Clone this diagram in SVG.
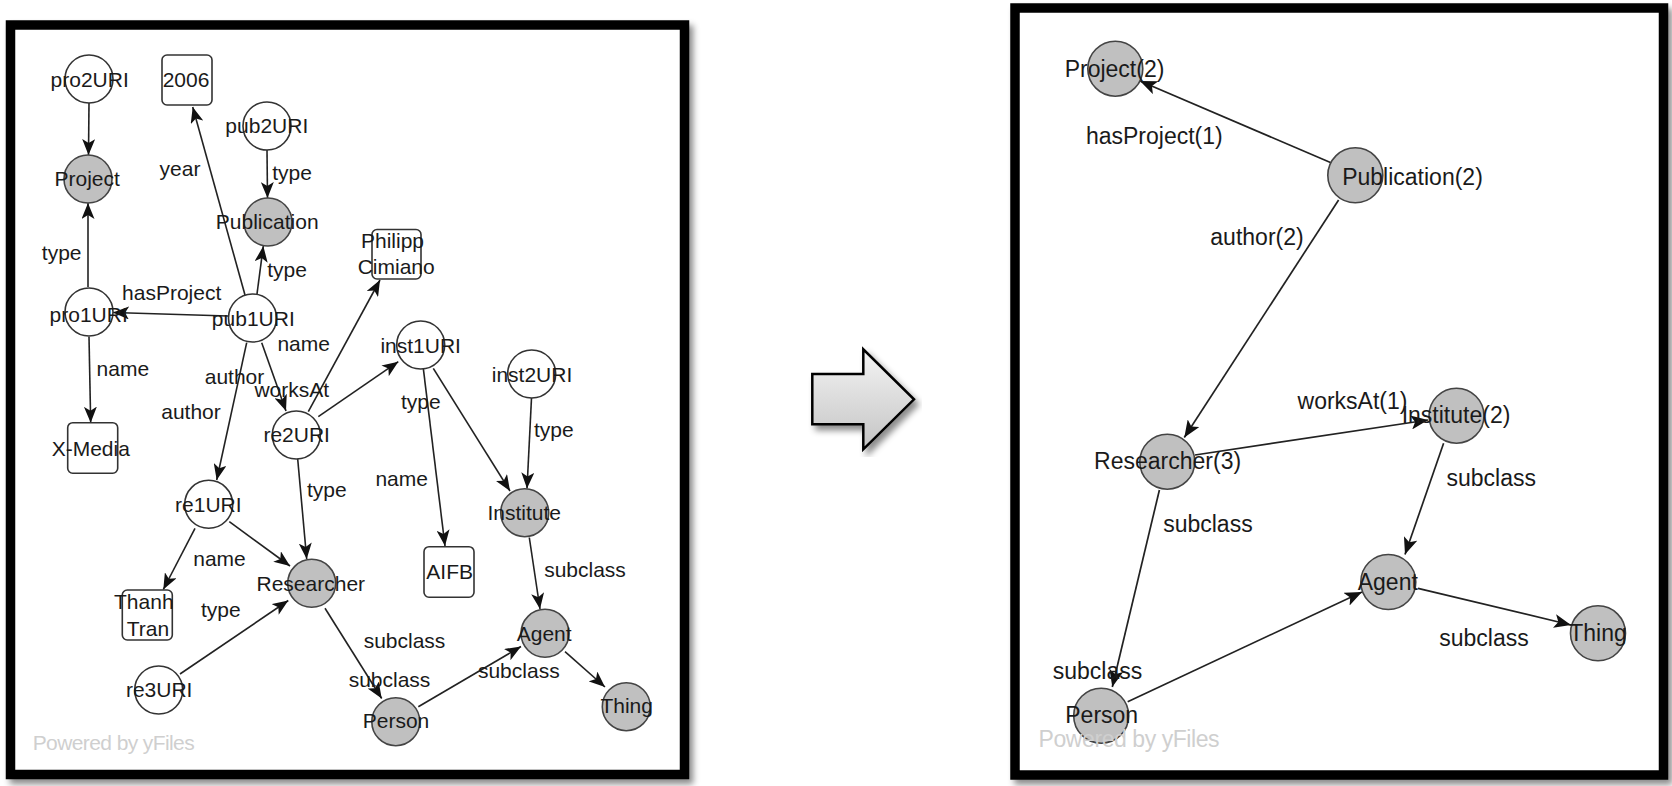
<svg xmlns="http://www.w3.org/2000/svg" width="1672" height="786" viewBox="0 0 1672 786">
<defs>
<style>
.panel{fill:#fff;stroke:#000;stroke-width:9.5;filter:url(#sh)}
.w{fill:#fff;stroke:#333;stroke-width:1.6}
.g{fill:#c0c0c0;stroke:#444;stroke-width:1.6}
.box{fill:#fff;stroke:#333;stroke-width:1.6}
.e{fill:none;stroke:#222;stroke-width:1.6;marker-end:url(#arr)}
.e2{fill:none;stroke:#222;stroke-width:1.7;marker-end:url(#arr2)}
text{font-family:"Liberation Sans",Arial,sans-serif;fill:#1a1a1a}
.t1{font-size:21px;text-anchor:middle}
.t2{font-size:23px;text-anchor:middle}
.pw{font-size:21px;fill:#cfcfcf}
.pw2{font-size:23px;fill:#cfcfcf}
</style>
<filter id="sh" x="-5%" y="-5%" width="112%" height="112%">
<feDropShadow dx="4" dy="5" stdDeviation="3" flood-color="#000" flood-opacity="0.45"/>
</filter>
<linearGradient id="ag" x1="0" y1="0" x2="0" y2="1">
<stop offset="0" stop-color="#f4f4f4"/>
<stop offset="1" stop-color="#c4c4c4"/>
</linearGradient>
<marker id="arr" viewBox="0 0 16 13" refX="16" refY="6.5" markerWidth="16" markerHeight="13" orient="auto" markerUnits="userSpaceOnUse">
<path d="M0,0 L16,6.5 L0,13 L4,6.5 z" fill="#111"/>
</marker>
<marker id="arr2" viewBox="0 0 17 14" refX="17" refY="7" markerWidth="17" markerHeight="14" orient="auto" markerUnits="userSpaceOnUse">
<path d="M0,0 L17,7 L0,14 L4,7 z" fill="#111"/>
</marker>
</defs>

<!-- panels -->
<rect class="panel" x="10.5" y="25" width="674" height="749.5"/>
<rect class="panel" x="1015" y="8" width="648.5" height="767"/>

<!-- block arrow -->
<g id="bigarrow">
<polygon points="812.3,374 863.3,374 863.3,349.3 914,399.3 863.3,449.3 863.3,424.3 812.3,424.3" fill="url(#ag)" stroke="#000" stroke-width="2.5" stroke-linejoin="miter" filter="url(#sh)"/>
</g>

<!-- left connectors -->
<g id="connectors-left">
<line class="e" x1="89" y1="103" x2="88.5" y2="155"/>
<line class="e" x1="267" y1="150" x2="267.5" y2="198"/>
<line class="e" x1="245" y1="295" x2="192.7" y2="107"/>
<line class="e" x1="257" y1="294" x2="263.3" y2="246"/>
<line class="e" x1="88" y1="287" x2="88" y2="203"/>
<line class="e" x1="228" y1="316" x2="113" y2="312.5"/>
<line class="e" x1="89" y1="336.7" x2="90.7" y2="422.7"/>
<line class="e" x1="246.7" y1="342.7" x2="216.7" y2="480"/>
<line class="e" x1="261.7" y1="342.7" x2="286" y2="411"/>
<line class="e" x1="308.3" y1="411.7" x2="380" y2="280"/>
<line class="e" x1="318.3" y1="416.7" x2="398.3" y2="361.7"/>
<line class="e" x1="423.3" y1="368.3" x2="445" y2="546"/>
<line class="e" x1="433.3" y1="368.3" x2="510" y2="491"/>
<line class="e" x1="531.5" y1="398" x2="527" y2="488.5"/>
<line class="e" x1="297.7" y1="459" x2="306.7" y2="559"/>
<line class="e" x1="229.3" y1="521.7" x2="290" y2="566"/>
<line class="e" x1="195" y1="528.3" x2="163.3" y2="589.5"/>
<line class="e" x1="180" y1="674" x2="288.3" y2="600.5"/>
<line class="e" x1="325" y1="608.3" x2="381.7" y2="698.5"/>
<line class="e" x1="418.3" y1="706.7" x2="521" y2="646.5"/>
<line class="e" x1="529.3" y1="537.5" x2="540" y2="609"/>
<line class="e" x1="565" y1="651.7" x2="605" y2="687"/>
</g>

<!-- left edge labels -->
<g id="edge-labels-left">
<text class="t1" x="180" y="176">year</text>
<text class="t1" x="292" y="180">type</text>
<text class="t1" x="287" y="277">type</text>
<text class="t1" x="61.7" y="260">type</text>
<text class="t1" x="171.7" y="300">hasProject</text>
<text class="t1" x="122.8" y="376">name</text>
<text class="t1" x="303.7" y="351">name</text>
<text class="t1" x="234.5" y="384">author</text>
<text class="t1" x="291.8" y="397">worksAt</text>
<text class="t1" x="191" y="419">author</text>
<text class="t1" x="326.8" y="497">type</text>
<text class="t1" x="219.5" y="566">name</text>
<text class="t1" x="220.8" y="617">type</text>
<text class="t1" x="420.8" y="409">type</text>
<text class="t1" x="401.7" y="486">name</text>
<text class="t1" x="553.8" y="437">type</text>
<text class="t1" x="585" y="576.5">subclass</text>
<text class="t1" x="404.5" y="648">subclass</text>
<text class="t1" x="389.5" y="687">subclass</text>
<text class="t1" x="518.8" y="677.5">subclass</text>
</g>

<!-- left nodes -->
<g id="pro2URI"><circle class="w" cx="89" cy="79" r="24"/><text class="t1" x="89.7" y="86.7">pro2URI</text></g>
<g id="n2006"><rect class="box" x="162" y="55" width="50" height="50" rx="5"/><text class="t1" x="186" y="86.7">2006</text></g>
<g id="pub2URI"><circle class="w" cx="267" cy="126" r="24"/><text class="t1" x="266.8" y="133.3">pub2URI</text></g>
<g id="Project"><circle class="g" cx="88" cy="179" r="24"/><text class="t1" x="87.2" y="185.7">Project</text></g>
<g id="Publication"><circle class="g" cx="268" cy="222" r="24"/><text class="t1" x="267.2" y="229">Publication</text></g>
<g id="PhilippCimiano"><rect class="box" x="372" y="229.5" width="49" height="49.5" rx="5"/><text class="t1" x="392.5" y="248.3">Philipp</text><text class="t1" x="396.2" y="274">Cimiano</text></g>
<g id="pro1URI"><circle class="w" cx="89" cy="312" r="24"/><text class="t1" x="88.7" y="321.7">pro1URI</text></g>
<g id="pub1URI"><circle class="w" cx="252.5" cy="318" r="24"/><text class="t1" x="253.3" y="326">pub1URI</text></g>
<g id="inst1URI"><circle class="w" cx="420.7" cy="345" r="24"/><text class="t1" x="420.7" y="353.3">inst1URI</text></g>
<g id="inst2URI"><circle class="w" cx="531.7" cy="374" r="24"/><text class="t1" x="532" y="381.7">inst2URI</text></g>
<g id="XMedia"><rect class="box" x="67.7" y="422.7" width="50" height="50.5" rx="5"/><text class="t1" x="90.8" y="456">X-Media</text></g>
<g id="re2URI"><circle class="w" cx="296.3" cy="435" r="24"/><text class="t1" x="296.7" y="441.7">re2URI</text></g>
<g id="re1URI"><circle class="w" cx="208.7" cy="504.3" r="24"/><text class="t1" x="208.3" y="511.7">re1URI</text></g>
<g id="Researcher"><circle class="g" cx="311.7" cy="583.3" r="24"/><text class="t1" x="310.8" y="591">Researcher</text></g>
<g id="ThanhTran"><rect class="box" x="122.3" y="590" width="50" height="50" rx="5"/><text class="t1" x="143.8" y="609.3">Thanh</text><text class="t1" x="148" y="636">Tran</text></g>
<g id="re3URI"><circle class="w" cx="158.7" cy="690" r="24"/><text class="t1" x="159.2" y="697.3">re3URI</text></g>
<g id="Institute"><circle class="g" cx="524.7" cy="512.7" r="24"/><text class="t1" x="524.2" y="520">Institute</text></g>
<g id="AIFB"><rect class="box" x="424" y="546.7" width="50" height="50.5" rx="5"/><text class="t1" x="449.7" y="579.3">AIFB</text></g>
<g id="Agent"><circle class="g" cx="545" cy="633.3" r="24"/><text class="t1" x="544.2" y="640.7">Agent</text></g>
<g id="Person"><circle class="g" cx="395.8" cy="721.7" r="24"/><text class="t1" x="396" y="728.3">Person</text></g>
<g id="Thing"><circle class="g" cx="626.3" cy="706.7" r="24"/><text class="t1" x="626.7" y="713.3">Thing</text></g>
<text class="pw" x="32.7" y="750" textLength="162">Powered by yFiles</text>

<!-- right connectors -->
<g id="connectors-right">
<line class="e2" x1="1332.2" y1="163.3" x2="1140" y2="81"/>
<line class="e2" x1="1338.6" y1="200" x2="1184.3" y2="437.5"/>
<line class="e2" x1="1195" y1="455" x2="1428" y2="420"/>
<line class="e2" x1="1443.6" y1="443.3" x2="1405" y2="554.5"/>
<line class="e2" x1="1159.4" y1="490" x2="1112.3" y2="687"/>
<line class="e2" x1="1127.7" y1="701.7" x2="1362" y2="592"/>
<line class="e2" x1="1418" y1="588.3" x2="1571" y2="625"/>
</g>

<!-- right edge labels -->
<g id="edge-labels-right">
<text class="t2" x="1154.3" y="144">hasProject(1)</text>
<text class="t2" x="1257" y="245">author(2)</text>
<text class="t2" x="1352.5" y="409.3">worksAt(1)</text>
<text class="t2" x="1491.2" y="486">subclass</text>
<text class="t2" x="1207.9" y="531.7">subclass</text>
<text class="t2" x="1484" y="645.7">subclass</text>
<text class="t2" x="1097.5" y="679">subclass</text>
</g>

<!-- right nodes -->
<g id="Project2"><circle class="g" cx="1115.3" cy="68.7" r="27.5"/><text class="t2" x="1114.5" y="76.7">Project(2)</text></g>
<g id="Publication2"><circle class="g" cx="1355.3" cy="175.3" r="27.5"/><text class="t2" x="1412.5" y="185">Publication(2)</text></g>
<g id="Institute2"><circle class="g" cx="1456.5" cy="415.7" r="27.5"/><text class="t2" x="1456" y="423.3">Institute(2)</text></g>
<g id="Researcher3"><circle class="g" cx="1167.3" cy="461.7" r="27.5"/><text class="t2" x="1167.6" y="469.3">Researcher(3)</text></g>
<g id="Agent2"><circle class="g" cx="1388.3" cy="582" r="27.5"/><text class="t2" x="1387.8" y="590">Agent</text></g>
<g id="Thing2"><circle class="g" cx="1598" cy="633.3" r="27.5"/><text class="t2" x="1598" y="640.7">Thing</text></g>
<g id="Person2"><circle class="g" cx="1101.2" cy="715.7" r="27.5"/><text class="t2" x="1101.7" y="723.3">Person</text></g>
<text class="pw2" x="1038.6" y="746.7" textLength="181">Powered by yFiles</text>
</svg>
